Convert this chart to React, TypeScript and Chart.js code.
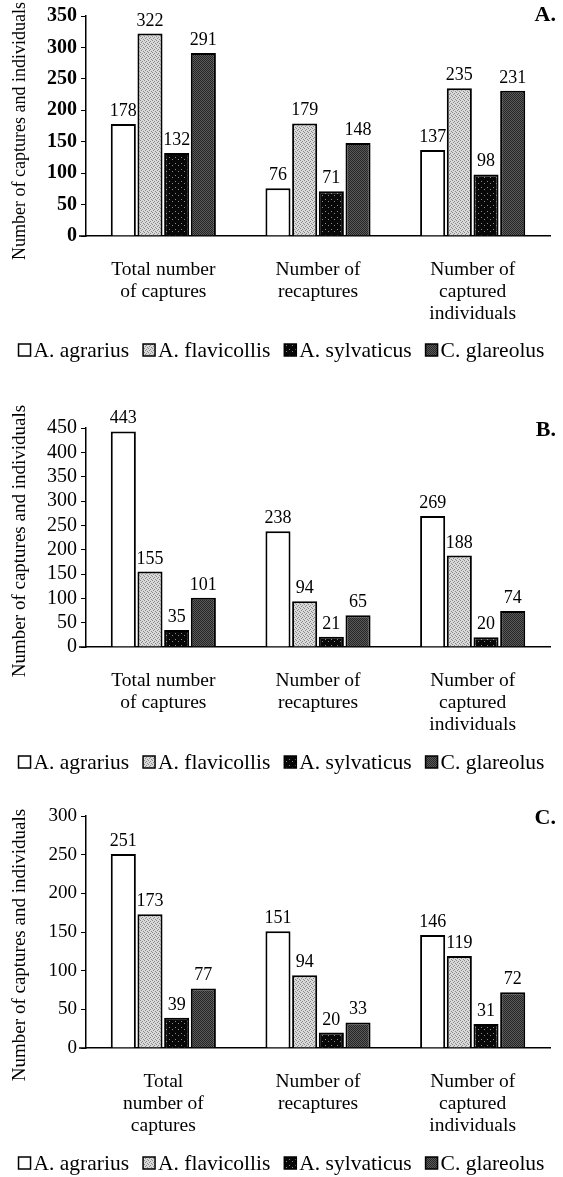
import React, { useEffect, useRef } from "react";
import { Chart, registerables } from "chart.js";

Chart.register(...registerables);

// ---------- data ----------
const seriesNames = ["A. agrarius", "A. flavicollis", "A. sylvaticus", "C. glareolus"];

const categoriesAB = [
  ["Total number", "of captures"],
  ["Number of", "recaptures"],
  ["Number of", "captured", "individuals"],
];
const categoriesC = [
  ["Total", "number of", "captures"],
  ["Number of", "recaptures"],
  ["Number of", "captured", "individuals"],
];

const panelA_agrarius = [178, 76, 137];
const panelA_flavicollis = [322, 179, 235];
const panelA_sylvaticus = [132, 71, 98];
const panelA_glareolus = [291, 148, 231];

const panelB_agrarius = [443, 238, 269];
const panelB_flavicollis = [155, 94, 188];
const panelB_sylvaticus = [35, 21, 20];
const panelB_glareolus = [101, 65, 74];

const panelC_agrarius = [251, 151, 146];
const panelC_flavicollis = [173, 94, 119];
const panelC_sylvaticus = [39, 20, 31];
const panelC_glareolus = [77, 33, 72];

const yAxisTitle = "Number of captures and individuals";

// ---------- styling ----------
const SERIF = "'Liberation Serif', 'Times New Roman', Times, serif";

type Panel = {
  key: string;
  top: number;
  height: number;
  padTop: number;
  padBottom: number;
  labels: string[][];
  series: number[][];
  yMax: number;
  tickSize: number;
  tickWeight: string;
  panelLabel: string;
  panelLabelY: number;
  titleY: number;
  titleSize: number;
  legendY: number;
};

const panels: Panel[] = [
  {
    key: "A", top: 0, height: 380, padTop: 14, padBottom: 44,
    labels: categoriesAB,
    series: [panelA_agrarius, panelA_flavicollis, panelA_sylvaticus, panelA_glareolus],
    yMax: 350, tickSize: 20, tickWeight: "bold",
    panelLabel: "A.", panelLabelY: 15, titleY: 131, titleSize: 18, legendY: 350,
  },
  {
    key: "B", top: 380, height: 400, padTop: 48, padBottom: 33,
    labels: categoriesAB,
    series: [panelB_agrarius, panelB_flavicollis, panelB_sylvaticus, panelB_glareolus],
    yMax: 450, tickSize: 20, tickWeight: "normal",
    panelLabel: "B.", panelLabelY: 50, titleY: 161, titleSize: 19, legendY: 382,
  },
  {
    key: "C", top: 780, height: 397, padTop: 36, padBottom: 29,
    labels: categoriesC,
    series: [panelC_agrarius, panelC_flavicollis, panelC_sylvaticus, panelC_glareolus],
    yMax: 300, tickSize: 19, tickWeight: "normal",
    panelLabel: "C.", panelLabelY: 38, titleY: 165, titleSize: 19, legendY: 383,
  },
];

function makeFills(ctx: CanvasRenderingContext2D): (string | CanvasPattern)[] {
  const tile = (n: number, base: string, dots: [number, number][], dot: string) => {
    const c = document.createElement("canvas");
    c.width = n;
    c.height = n;
    const g = c.getContext("2d")!;
    g.fillStyle = base;
    g.fillRect(0, 0, n, n);
    g.fillStyle = dot;
    dots.forEach(([x, y]) => g.fillRect(x, y, 1, 1));
    return ctx.createPattern(c, "repeat")!;
  };
  const light = tile(4, "#d9d9d9", [[0, 0], [2, 1], [1, 2], [3, 3]], "#8a8a8a");
  const black = tile(6, "#080808", [[1, 1], [4, 3]], "#8a8a8a");
  const dark = tile(2, "#5a5a5a", [[0, 0], [1, 1]], "#262626");
  return ["#ffffff", light, black, dark];
}

const decorPlugin = {
  id: "decor",
  afterDatasetsDraw(chart: any) {
    const ctx: CanvasRenderingContext2D = chart.ctx;
    ctx.save();
    ctx.fillStyle = "#000";
    ctx.font = `18px ${SERIF}`;
    ctx.textAlign = "center";
    ctx.textBaseline = "alphabetic";
    chart.data.datasets.forEach((ds: any, i: number) => {
      const meta = chart.getDatasetMeta(i);
      meta.data.forEach((bar: any, j: number) => {
        ctx.fillText(String(ds.data[j]), bar.x, bar.y - 8);
      });
    });
    ctx.restore();
  },
  afterDraw(chart: any, _args: any, opts: any) {
    const ctx: CanvasRenderingContext2D = chart.ctx;
    const area = chart.chartArea;
    ctx.save();
    // small extension of the category axis to the left of the value axis
    ctx.strokeStyle = "#000";
    ctx.lineWidth = 1.5;
    ctx.beginPath();
    ctx.moveTo(area.left - 7, area.bottom);
    ctx.lineTo(area.left, area.bottom);
    ctx.stroke();

    ctx.fillStyle = "#000";
    // panel letter
    ctx.font = `bold 22px ${SERIF}`;
    ctx.textAlign = "right";
    ctx.textBaseline = "middle";
    ctx.fillText(opts.panelLabel, 556, opts.panelLabelY);
    // y-axis title
    ctx.save();
    ctx.translate(20, opts.titleY);
    ctx.rotate(-Math.PI / 2);
    ctx.font = `${opts.titleSize}px ${SERIF}`;
    ctx.textAlign = "center";
    ctx.textBaseline = "middle";
    ctx.fillText(yAxisTitle, 0, 0);
    ctx.restore();
    // legend
    ctx.font = `21.5px ${SERIF}`;
    ctx.textBaseline = "middle";
    ctx.textAlign = "left";
    const box = 12, gapBox = 3, gapItem = 14;
    const datasets = chart.data.datasets;
    const widths = datasets.map((d: any) => box + gapBox + ctx.measureText(d.label).width);
    const total = widths.reduce((a: number, b: number) => a + b, 0) + gapItem * (datasets.length - 1);
    let x = 281.5 - total / 2;
    const y = opts.legendY;
    datasets.forEach((d: any, i: number) => {
      ctx.fillStyle = d.backgroundColor;
      ctx.fillRect(x, y - box / 2, box, box);
      ctx.strokeStyle = "#000";
      ctx.lineWidth = 1.5;
      ctx.strokeRect(x, y - box / 2, box, box);
      ctx.fillStyle = "#000";
      ctx.fillText(d.label, x + box + gapBox, y + 1);
      x += widths[i] + gapItem;
    });
    ctx.restore();
  },
};

function PanelChart({ p }: { p: Panel }) {
  const ref = useRef<HTMLCanvasElement | null>(null);
  useEffect(() => {
    const canvas = ref.current!;
    const ctx = canvas.getContext("2d")!;
    const fills = makeFills(ctx);
    const chart = new Chart(canvas, {
      type: "bar",
      data: {
        labels: p.labels as any,
        datasets: p.series.map((vals, i) => ({
          label: seriesNames[i],
          data: vals,
          backgroundColor: fills[i] as any,
          borderColor: "#000",
          borderWidth: 2,
          categoryPercentage: 0.69,
          barPercentage: 0.94,
        })),
      },
      options: {
        responsive: false,
        animation: false,
        devicePixelRatio: 1,
        layout: { padding: { top: p.padTop, bottom: p.padBottom, left: 0, right: 13 } },
        plugins: {
          legend: { display: false },
          tooltip: { enabled: false },
          title: { display: false },
          decor: {
            panelLabel: p.panelLabel,
            panelLabelY: p.panelLabelY,
            titleY: p.titleY,
            titleSize: p.titleSize,
            legendY: p.legendY,
          },
        } as any,
        scales: {
          x: {
            grid: { display: false, drawTicks: false },
            border: { display: true, color: "#000", width: 1.5 },
            ticks: {
              color: "#000",
              padding: 23,
              maxRotation: 0,
              autoSkip: false,
              font: { family: SERIF, size: 19.5, lineHeight: 1.13 },
            },
            afterFit: (s: any) => { s.height = 100; },
          },
          y: {
            min: 0,
            max: p.yMax,
            grid: { display: true, drawOnChartArea: false, drawTicks: true, tickLength: 5, color: "#000", lineWidth: 1 },
            border: { display: true, color: "#000", width: 1.5 },
            ticks: {
              stepSize: 50,
              autoSkip: false,
              color: "#000",
              padding: 4,
              font: { family: SERIF, size: p.tickSize, weight: p.tickWeight as any },
            },
            afterFit: (s: any) => { s.width = 86; },
          },
        },
      },
      plugins: [decorPlugin as any],
    });
    return () => chart.destroy();
  }, [p]);
  return (
    <canvas
      ref={ref}
      width={563}
      height={p.height}
      style={{ position: "absolute", left: 0, top: p.top, width: 563, height: p.height }}
    />
  );
}

export default function App() {
  return (
    <div style={{ position: "absolute", left: 0, top: 0, width: 563, height: 1177, background: "#fff", overflow: "hidden" }}>
      {panels.map((p) => (
        <PanelChart key={p.key} p={p} />
      ))}
    </div>
  );
}
